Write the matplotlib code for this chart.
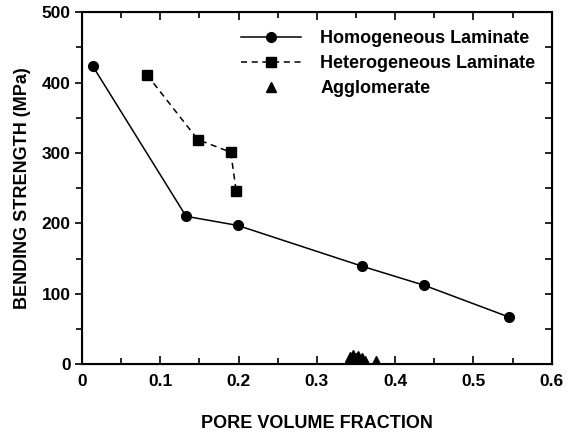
import matplotlib.pyplot as plt
from matplotlib.ticker import MultipleLocator

plt.rcParams['font.family'] = ['Liberation Sans', 'DejaVu Sans']
plt.rcParams['font.weight'] = 'bold'

# Homogeneous laminate
homo_x = [0.014, 0.133, 0.199, 0.358, 0.437, 0.545]
homo_y = [423, 210, 197, 139, 112, 67]

# Heterogeneous laminate
hetero_x = [0.083, 0.148, 0.190, 0.197]
hetero_y = [411, 319, 301, 246]

# Agglomerate
aggl_x = [0.342, 0.346, 0.350, 0.353, 0.357, 0.362, 0.376]
aggl_y = [10, 13, 9, 11, 8, 5, 4]

fig = plt.figure(figsize=(5.73, 4.34), dpi=100)
ax = fig.add_axes([0.143, 0.161, 0.820, 0.811])

ax.plot(homo_x, homo_y, '-', color='black', lw=1.1, marker='o', ms=7,
        label='Homogeneous Laminate')
ax.plot(hetero_x, hetero_y, '--', color='black', lw=1.1, marker='s', ms=7,
        dashes=(4, 3), label='Heterogeneous Laminate')
ax.plot(aggl_x, aggl_y, ls='none', color='black', marker='^', ms=7,
        label='Agglomerate')

ax.set_xlim(0, 0.6)
ax.set_ylim(0, 500)
ax.set_xticks([0, 0.1, 0.2, 0.3, 0.4, 0.5, 0.6])
ax.set_xticklabels(['0', '0.1', '0.2', '0.3', '0.4', '0.5', '0.6'])
ax.xaxis.set_minor_locator(MultipleLocator(0.05))
ax.yaxis.set_major_locator(MultipleLocator(100))
ax.yaxis.set_minor_locator(MultipleLocator(50))

for s in ax.spines.values():
    s.set_linewidth(1.5)

ax.tick_params(axis='x', which='both', direction='in', top=True, labelsize=12.5, pad=7)
ax.tick_params(axis='x', which='major', length=6, width=1.2)
ax.tick_params(axis='x', which='minor', length=4, width=1.2)
ax.tick_params(axis='y', which='both', direction='out', labelsize=12.5, width=1.2, pad=3)
ax.tick_params(axis='y', which='major', length=5)
ax.tick_params(axis='y', which='minor', length=4)

# right side ticks pointing inward
ax2 = ax.twinx()
ax2.set_ylim(0, 500)
ax2.yaxis.set_major_locator(MultipleLocator(50))
ax2.tick_params(axis='y', direction='in', length=5, width=1.2, labelright=False)

ax.set_xlabel('PORE VOLUME FRACTION', fontsize=13, fontweight='bold', labelpad=19)
ax.set_ylabel('BENDING STRENGTH (MPa)', fontsize=13, fontweight='bold', labelpad=8)

leg = ax.legend(loc='upper right', frameon=False, fontsize=13, handlelength=3.3,
                bbox_to_anchor=(1.0, 0.995), labelspacing=0.45, handletextpad=1.1)

fig.savefig('out.png', dpi=100)
